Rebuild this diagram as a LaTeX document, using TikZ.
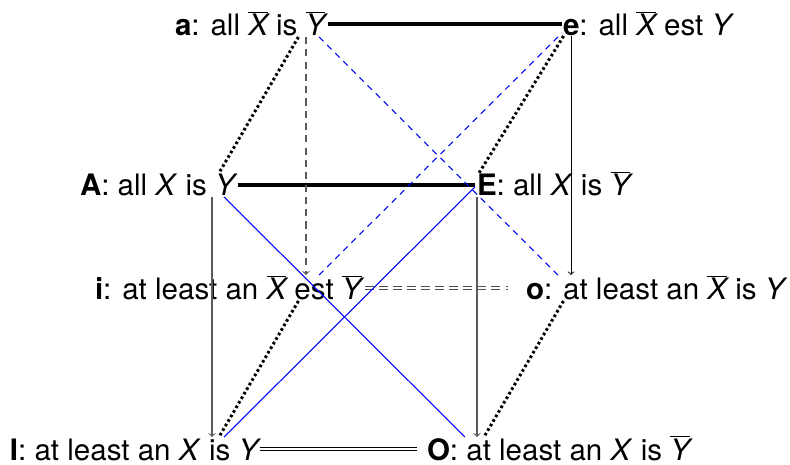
\documentclass[tikz,border=0pt]{standalone}
\usepackage{fontspec}
\setmainfont{TeX Gyre Heros}
\usetikzlibrary{arrows}
\newcommand{\barX}{$\overline{\mbox{\itshape X}}$}
\newcommand{\barY}{$\overline{\mbox{\itshape Y}}$}

\begin{document}
\begin{tikzpicture}[
        x=0.02cm, y=-0.02cm,
        every node/.style={draw=none, inner sep=0pt, outer sep=0pt},
        prop/.style={anchor=base west, font=\fontsize{16.8}{20}\selectfont},
        vertex/.style 2 args={minimum width=#1cm, minimum height=#2cm},
        contrary/.style={line width=1.9pt},
        subcontrary/.style={double, line width=0.5pt, double distance=1.3pt},
        subaltern/.style={->, black!65, line width=0.6pt},
        contradict/.style={blue, line width=0.6pt},
        neg/.style={line width=1.7pt, dash pattern=on 1.5pt off 1.5pt}
    ]
        \useasboundingbox (0,0) rectangle (790,465);

        \node[vertex={0.88}{0.52}] (a) at (306,24) {};
        \node[vertex={0.36}{0.48}] (e) at (571,24) {};
        \node[vertex={1.04}{0.48}] (A) at (212,185) {};
        \node[vertex={0.08}{0.48}] (E) at (477,185) {};
        \node[vertex={2.36}{0.52}] (i) at (306,288) {};
        \node[vertex={2.52}{0.52}] (o) at (571,288) {};
        \node[vertex={1.92}{0.48}] (I) at (212,449) {};
        \node[vertex={2.40}{0.48}] (O) at (477,449) {};

        \node[prop] (ta) at (175,36) {\textbf{a}: all \barX{} is \barY};
        \node[prop] (te) at (563,36) {\textbf{e}: all \barX{} est \textit{Y}};
        \node[prop] (tA) at (80,196) {\textbf{A}: all \textit{X} is \textit{Y}};
        \node[prop] (tE) at (477,196) {\textbf{E}: all \textit{X} is \barY};
        \node[prop] (ti) at (95,300) {\textbf{i}: at least an \barX{} est \barY};
        \node[prop] (to) at (526,300) {\textbf{o}: at least an \barX{} is \textit{Y}};
        \node[prop] (tI) at (10,460) {\textbf{I}: at least an \textit{X} is \textit{Y}};
        \node[prop] (tO) at (427,460) {\textbf{O}: at least an \textit{X} is \barY};

        \draw[contrary] (a) -- (e);
        \draw[contrary] (A) -- (E);
        \draw[subcontrary, black!70, dash pattern=on 5pt off 3pt] (i) -- (o);
        \draw[subcontrary] (I) -- (O);

        \draw[subaltern, dash pattern=on 4pt off 3pt] (a) -- (i);
        \draw[subaltern, black, line width=0.5pt] (e) -- (o);
        \draw[subaltern] (A) -- (I);
        \draw[subaltern] (E) -- (O);

        \draw[neg] (a) -- (A);
        \draw[neg] (e) -- (E.north east);
        \draw[neg] (i) -- (I);
        \draw[neg] (o) -- (O);

        \draw[contradict] (A) -- (O);
        \draw[contradict] (I) -- (E);
        \draw[contradict, dash pattern=on 3.5pt off 3pt] (a) -- (o);
        \draw[contradict, dash pattern=on 3.5pt off 3pt] (i) -- (e);
    \end{tikzpicture}
\end{document}
